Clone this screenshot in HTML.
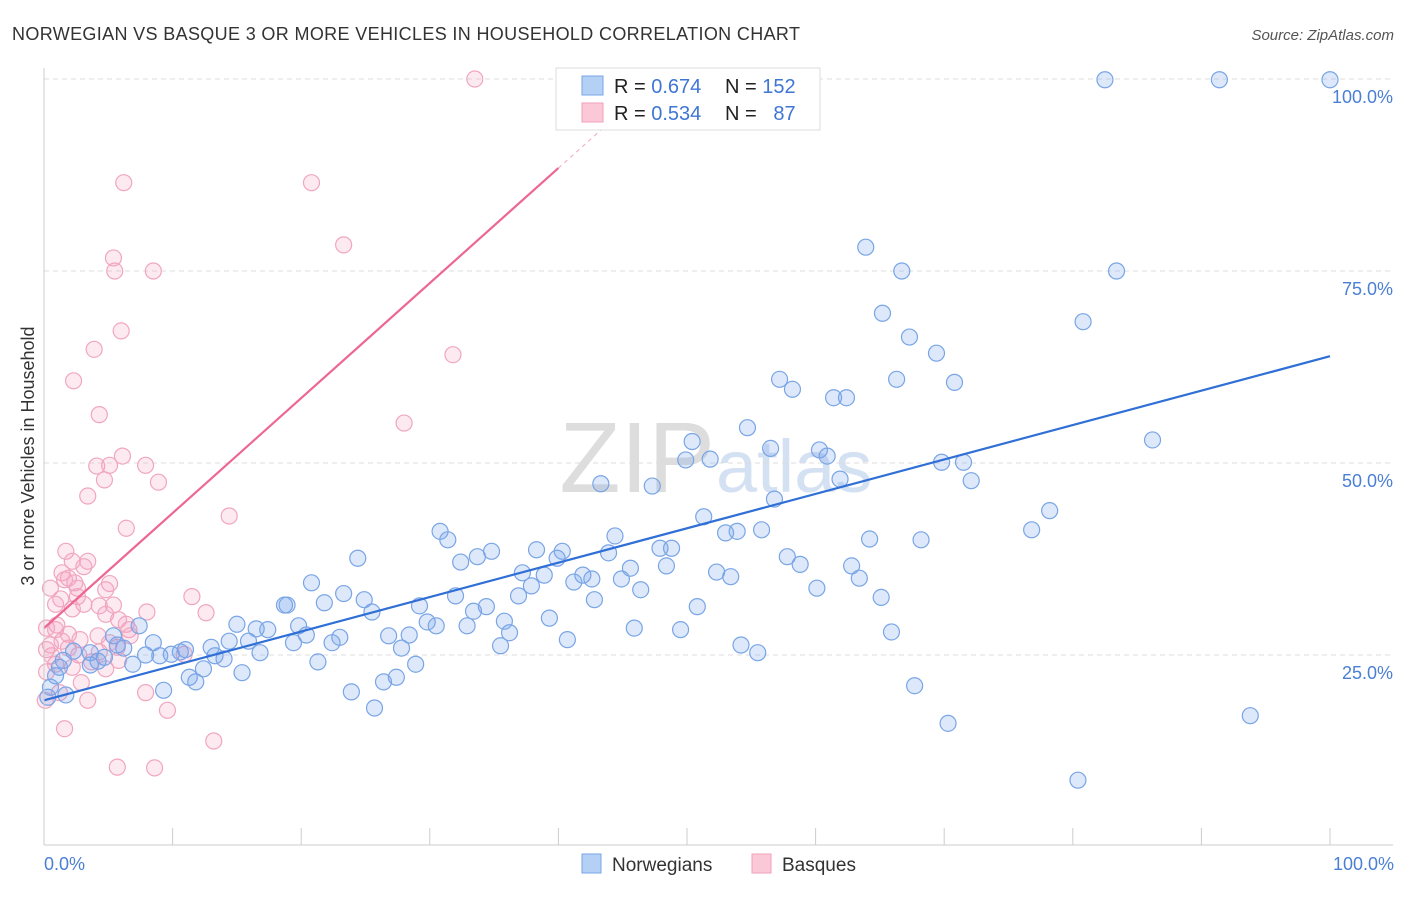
<!DOCTYPE html>
<html><head><meta charset="utf-8"><style>
body{margin:0;background:#fff;font-family:"Liberation Sans",sans-serif;}
svg text{font-family:"Liberation Sans",sans-serif;}
</style></head><body>
<svg id="chart" width="1406" height="892">
<text x="12" y="40" font-size="18" fill="#333" letter-spacing="0.35">NORWEGIAN VS BASQUE 3 OR MORE VEHICLES IN HOUSEHOLD CORRELATION CHART</text>
<text x="1394" y="40" font-size="15" fill="#555" font-style="italic" text-anchor="end">Source: ZipAtlas.com</text>
<text x="715" y="492" font-size="100" fill="#ddd" text-anchor="end" font-family="Liberation Serif">ZIP</text>
<text x="716" y="492" font-size="74" fill="#d3e1f3">atlas</text>
<text transform="translate(34,456) rotate(-90)" font-size="18" fill="#333" text-anchor="middle">3 or more Vehicles in Household</text>
<g id="grid"></g><g id="pts"></g><g id="lines"></g>
<line x1="44" y1="68" x2="44" y2="845" stroke="#ccc"/>
<line x1="44" y1="845" x2="1393" y2="845" stroke="#ccc"/>
<text x="44" y="870" font-size="18" fill="#4a7fd4">0.0%</text>
<text x="1394" y="870" font-size="18" fill="#4a7fd4" text-anchor="end">100.0%</text>
<g>
<rect x="556" y="68" width="264" height="62" fill="#fff" stroke="#ddd"/>
<rect x="582" y="76" width="21" height="19" fill="#b5d0f5" stroke="#7aa6e8"/>
<rect x="582" y="103" width="21" height="19" fill="#fac8d7" stroke="#f0a0b8"/>
<text x="614" y="93" font-size="20" fill="#222">R = <tspan fill="#3f76d4">0.674</tspan></text>
<text x="725" y="93" font-size="20" fill="#222">N = <tspan fill="#3f76d4">152</tspan></text>
<text x="614" y="120" font-size="20" fill="#222">R = <tspan fill="#3f76d4">0.534</tspan></text>
<text x="725" y="120" font-size="20" fill="#222">N = <tspan fill="#3f76d4">&#160;&#160;87</tspan></text>
</g>
<g>
<rect x="582" y="854" width="19" height="19" fill="#b5d0f5" stroke="#7aa6e8"/>
<text x="612" y="871" font-size="19" fill="#333">Norwegians</text>
<rect x="752" y="854" width="19" height="19" fill="#fac8d7" stroke="#f0a0b8"/>
<text x="782" y="871" font-size="19" fill="#333">Basques</text>
</g>
</svg>
<script>
const yTicks=[25,50,75,100];
const yTickLabels=["25.0%","50.0%","75.0%","100.0%"];
const xTicks=[0,10,20,30,40,50,60,70,80,90,100];
const blueX=[82.5,91.4,100,63.9,66.7,83.4,65.2,80.8,67.3,69.4,57.2,66.3,70.8,58.2,61.4,62.4,54.7,86.2,50.4,56.5,60.3,60.9,49.9,51.8,69.8,71.5,61.9,72.1,43.3,47.3,56.8,78.2,51.3,76.8,30.8,53.0,53.9,55.8,44.4,31.4,64.2,68.2,34.8,38.3,40.3,43.9,47.9,48.8,24.4,33.7,57.8,39.9,32.4,58.8,45.6,48.4,62.8,52.3,37.2,38.9,41.9,53.4,63.4,42.6,44.9,20.8,41.2,37.9,60.1,46.4,23.3,32,24.9,36.9,65.1,42.8,21.8,18.7,18.9,29.2,34.4,50.8,25.5,33.4,39.3,15,16.5,17.4,29.8,30.5,32.9,35.8,19.8,7.4,45.9,49.5,65.9,20.4,36.2,26.8,28.4,5.4,14.4,23,22.4,15.9,40.7,19.4,8.5,54.2,13,27.8,5.7,35.5,11,2.3,3.6,6.2,10.6,9.9,16.8,55.5,7.9,13.3,9,14,4.7,4.2,1.5,6.9,28.9,21.3,3.6,12.4,1.2,11.3,27.4,15.4,11.8,26.4,0.9,0.5,67.7,9.3,23.9,1.7,0.3,93.8,25.7,70.3,80.4];
const blueY=[99.9,99.9,99.9,78.1,75,75,69.5,68.4,66.4,64.3,60.9,60.9,60.5,59.6,58.5,58.5,54.6,53,52.8,51.9,51.7,50.9,50.4,50.5,50.1,50.1,47.9,47.7,47.3,47,45.3,43.8,43,41.3,41.1,40.9,41.1,41.3,40.5,40,40.1,40,38.5,38.7,38.5,38.3,38.9,38.9,37.6,37.8,37.8,37.6,37.1,36.8,36.3,36.6,36.6,35.8,35.7,35.4,35.4,35.2,35,34.9,34.9,34.4,34.5,34,33.7,33.5,33,32.7,32.2,32.7,32.5,32.2,31.8,31.5,31.5,31.4,31.3,31.3,30.6,30.7,29.8,29,28.4,28.3,29.3,28.8,28.8,29.4,28.8,28.8,28.5,28.3,28,27.6,27.9,27.5,27.6,27.5,26.8,27.3,26.6,26.8,27,26.6,26.6,26.3,26,25.9,26.3,26.2,25.7,25.5,25.3,25.9,25.4,25.1,25.3,25.3,25,24.9,24.9,24.5,24.7,24.2,24.3,23.8,23.8,24.1,23.7,23.2,23.4,22.1,22.1,22.7,21.5,21.5,22.3,20.8,21,20.4,20.2,19.8,19.5,17.1,18.1,16.1,8.7];
const pinkX=[33.5,6.2,20.8,5.4,5.5,8.5,23.3,6,3.9,31.8,2.3,4.3,28,6.1,4.1,5.1,7.9,4.7,8.9,3.4,14.4,6.4,1.7,3.4,2.2,3.1,1.4,1.9,2.4,1.6,5.1,2.6,4.8,0.5,1.3,2.6,11.5,3.1,5.4,0.9,4.3,2.2,8,12.6,4.8,5.8,6.4,1,6.6,0.9,0.2,1.9,4.2,6.7,2.8,1.4,5.1,0.5,5.7,1.9,0.2,4.3,10.9,2.7,0.6,5.8,3.7,0.9,2.2,4.8,0.2,2.9,7.9,1.2,3.4,9.6,1.6,13.2,5.7,8.6,0.1];
const pinkY=[100,86.5,86.5,76.7,75,75,78.4,67.2,64.8,64.1,60.7,56.3,55.2,50.9,49.6,49.7,49.7,47.8,47.5,45.7,43.1,41.5,38.5,37.2,37.2,36.5,35.7,35,34.4,34.8,34.3,33.7,33.5,33.7,32.3,32.6,32.6,31.6,31.5,31.6,31.4,31,30.6,30.5,30.3,29.6,29,28.9,28.3,28.3,28.5,27.7,27.5,27.5,27,26.8,26.6,26.3,26,25.9,25.7,25.4,25.1,25,24.9,24.3,24.1,23.8,23.4,23.2,22.8,21.4,20.1,20.1,19.1,17.8,15.4,13.8,10.4,10.3,19.1];
const blueFit=[19.1,63.9];
const pinkFit=[28.5,88.4];
const sx=v=>44+v*12.86, sy=v=>847-v*7.68;
const NS="http://www.w3.org/2000/svg";
function mk(t,a,p){const e=document.createElementNS(NS,t);for(const k in a)e.setAttribute(k,a[k]);p.appendChild(e);return e;}
const grid=document.getElementById('grid');
yTicks.forEach((t,i)=>{
 const l=mk('line',{x1:44,x2:1393,y1:sy(t),y2:sy(t),stroke:'#ddd','stroke-dasharray':'5,4'},grid);
 
 
 const tx=mk('text',{x:1393,y:sy(t)+24,'font-size':18,fill:'#4a7fd4','text-anchor':'end'},grid);
 tx.textContent=yTickLabels[i];
 
 
});
xTicks.forEach(t=>{
 const l=mk('line',{x1:sx(t),x2:sx(t),y1:828,y2:845,stroke:'#ccc'},grid);
 
 
});
const pts=document.getElementById('pts');
pinkX.forEach((x,i)=>{
 const c=mk('circle',{cx:sx(x),cy:sy(pinkY[i]),r:8,fill:'rgba(245,160,190,0.22)',stroke:'#f0a6bf','stroke-width':1.2},pts);
 
 
});
blueX.forEach((x,i)=>{
 const c=mk('circle',{cx:sx(x),cy:sy(blueY[i]),r:8,fill:'rgba(120,165,235,0.25)',stroke:'#79a5e6','stroke-width':1.2},pts);
 
 
});
const lines=document.getElementById('lines');
const bl=mk('line',{x1:sx(0),y1:sy(blueFit[0]),x2:sx(100),y2:sy(blueFit[1]),stroke:'#2f6fd6','stroke-width':2.2},lines);


const pY=x=>pinkFit[0]+(pinkFit[1]-pinkFit[0])*x/40;
const pl=mk('line',{x1:sx(0),y1:sy(pY(0)),x2:sx(40),y2:sy(pY(40)),stroke:'#ec6791','stroke-width':2.2},lines);


const pd=mk('line',{x1:sx(40),y1:sy(pY(40)),x2:sx(43.5),y2:sy(pY(43.5)),stroke:'#f0a6bf','stroke-width':1,'stroke-dasharray':'4,4'},lines);


</script>
</body></html>
